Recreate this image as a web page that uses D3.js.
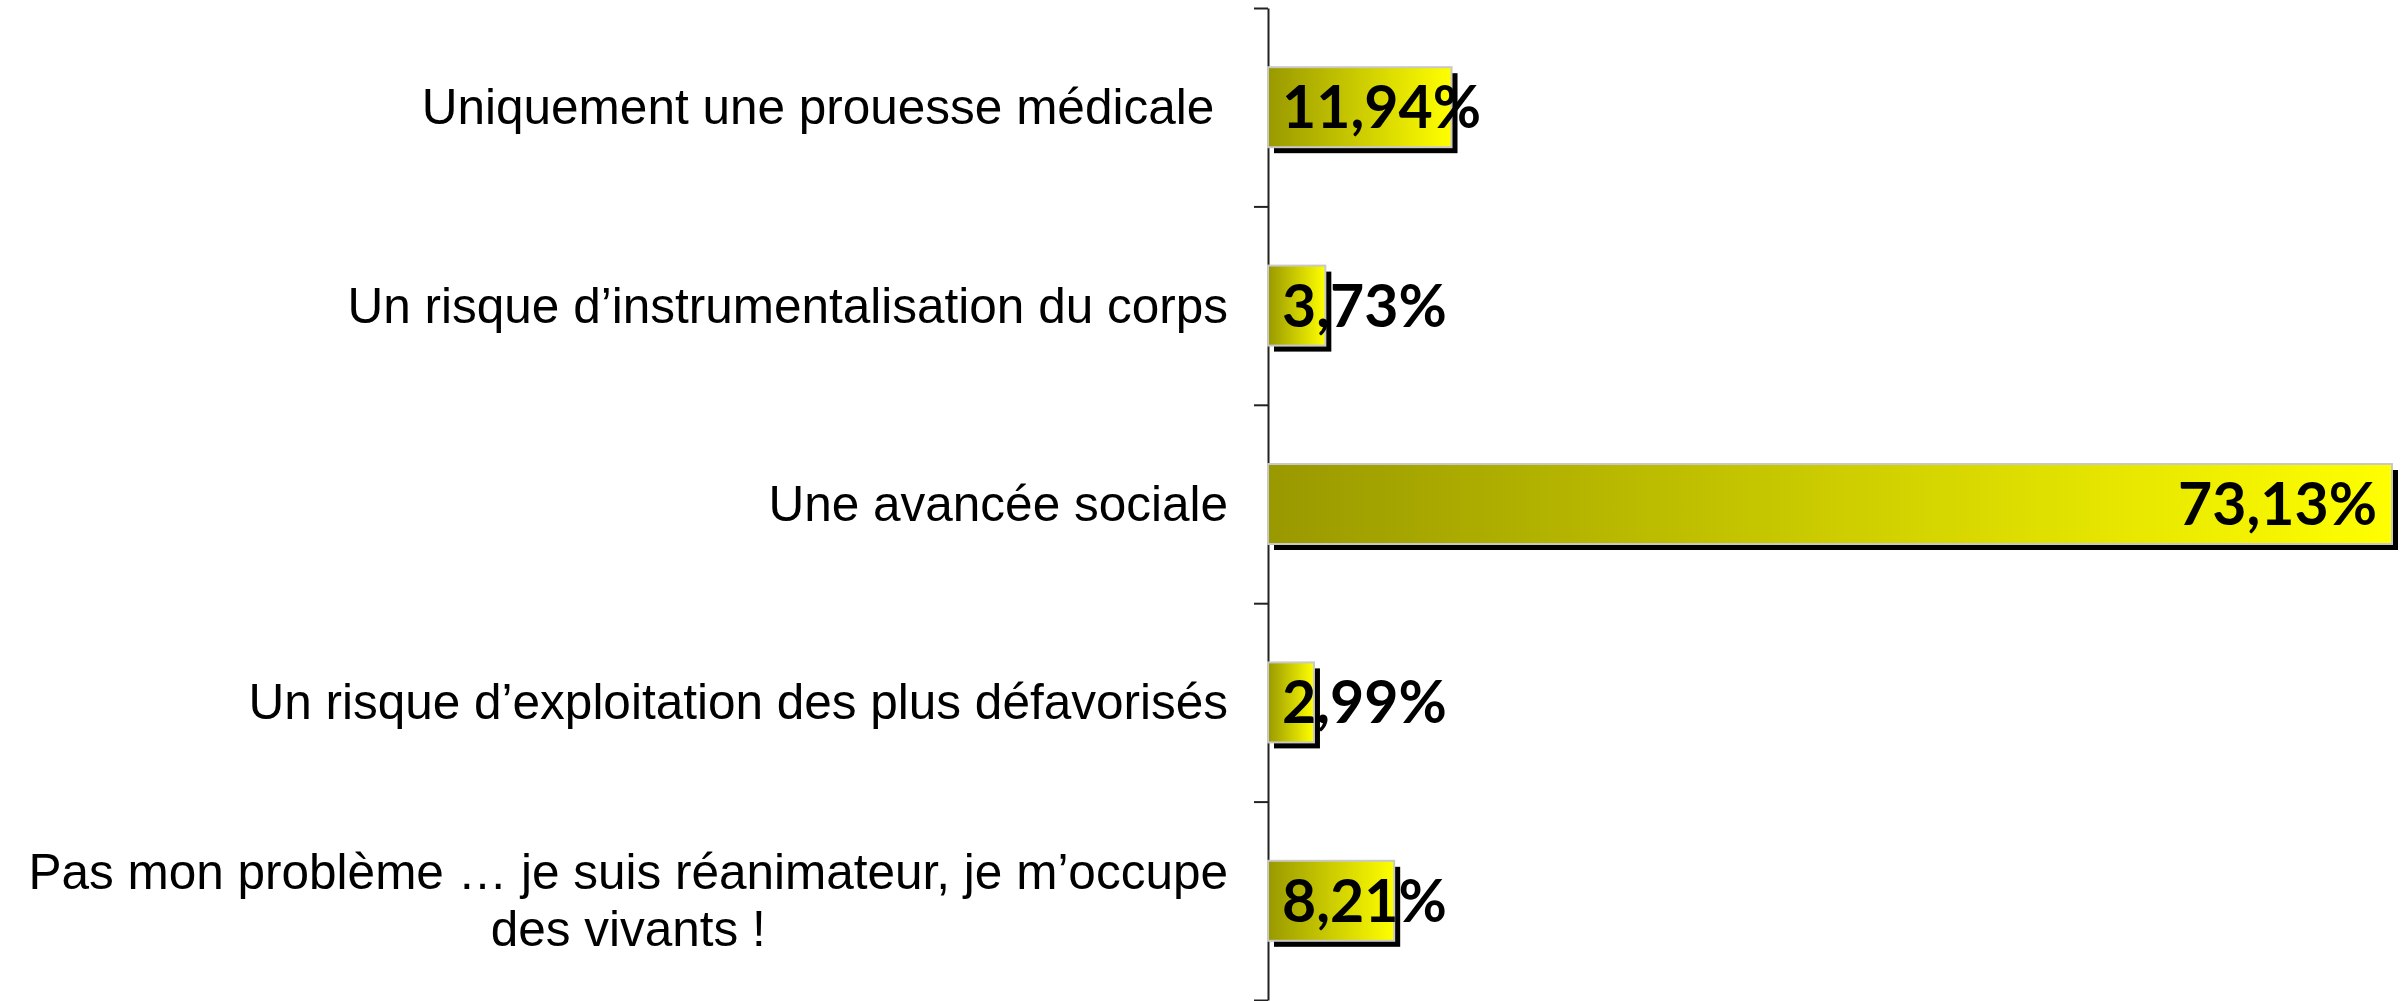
<!DOCTYPE html>
<html>
<head>
<meta charset="utf-8">
<script src="https://cdn.jsdelivr.net/npm/d3@7"></script>
<style>
  html, body { margin: 0; padding: 0; background: #ffffff; }
  svg { display: block; }
</style>
</head>
<body>
<svg id="chart" width="2407" height="1001"></svg>
<script>
const categories = [
  ["Uniquement une prouesse médicale "],
  ["Un risque d\u2019instrumentalisation du corps"],
  ["Une avancée sociale"],
  ["Un risque d\u2019exploitation des plus défavorisés"],
  ["Pas mon problème \u2026 je suis réanimateur, je m\u2019occupe", "des vivants !"]
];
const values = [11.94, 3.73, 73.13, 2.99, 8.21];
const valueLabels = ["11,94%", "3,73%", "73,13%", "2,99%", "8,21%"];

const axisX = 1268;
const svg = d3.select("#chart");

const x = d3.scaleLinear().domain([0, 73.13]).range([axisX, 2392]);
const y = d3.scaleBand().domain(d3.range(categories.length)).range([8, 1000]).padding(0);
const tickScale = d3.scaleLinear().domain([0, categories.length]).range([8, 1000]);

const defs = svg.append("defs");
const grad = defs.append("linearGradient").attr("id", "barGrad")
  .attr("x1", "0%").attr("x2", "100%").attr("y1", "0%").attr("y2", "0%");
grad.append("stop").attr("offset", "0%").attr("stop-color", "#999900");
grad.append("stop").attr("offset", "100%").attr("stop-color", "#ffff00");

const barH = 80;
const shadowOff = 6;

// axis
const axis = d3.axisLeft(tickScale)
  .tickValues(d3.range(categories.length + 1))
  .tickFormat("")
  .tickSizeInner(14)
  .tickSizeOuter(0);
const gAxis = svg.append("g").attr("transform", `translate(${axisX},0)`).call(axis);
gAxis.select(".domain").attr("stroke", "#222").attr("stroke-width", 2);
gAxis.selectAll(".tick line").attr("stroke", "#222").attr("stroke-width", 2);

const bars = svg.append("g");
values.forEach((v, i) => {
  const cy = y(i) + y.bandwidth() / 2;
  const top = cy - barH / 2;
  bars.append("rect")
    .attr("x", x(0) + shadowOff).attr("y", top + shadowOff)
    .attr("width", x(v) - x(0)).attr("height", barH)
    .attr("fill", "#000");
  bars.append("rect")
    .attr("x", x(0)).attr("y", top)
    .attr("width", x(v) - x(0)).attr("height", barH)
    .attr("fill", "url(#barGrad)")
    .attr("stroke", "#c8c8c8").attr("stroke-width", 2);
});

// value labels
const labels = svg.append("g")
  .attr("font-family", "Lato, 'Open Sans', sans-serif")
  .attr("font-weight", "bold")
  .attr("font-size", 59)
  .attr("fill", "#000");
values.forEach((v, i) => {
  const cy = y(i) + y.bandwidth() / 2;
  const t = labels.append("text")
    .attr("text-anchor", "end")
    .attr("y", cy + 21)
    .text(valueLabels[i]);
  const w = t.node().getComputedTextLength();
  const endX = Math.max(x(v) - 15, x(0) + 14 + w);
  t.attr("x", endX);
});

// category labels
const cats = svg.append("g")
  .attr("font-family", "'Liberation Sans', Arial, sans-serif")
  .attr("font-size", 49.5)
  .attr("fill", "#000")
  .style("white-space", "pre");
const lineH = 57;
categories.forEach((lines, i) => {
  const cy = y(i) + y.bandwidth() / 2;
  const n = lines.length;
  const g = cats.append("g");
  const texts = lines.map((ln, k) => g.append("text")
    .attr("xml:space", "preserve")
    .attr("y", cy + 17 + (k - (n - 1) / 2) * lineH)
    .text(ln));
  const widths = texts.map(t => t.node().getComputedTextLength());
  const maxW = d3.max(widths);
  const rightX = 1228;
  const centerX = rightX - maxW / 2;
  texts.forEach(t => t.attr("text-anchor", n > 1 ? "middle" : "end")
    .attr("x", n > 1 ? centerX : rightX));
});
</script>
</body>
</html>
